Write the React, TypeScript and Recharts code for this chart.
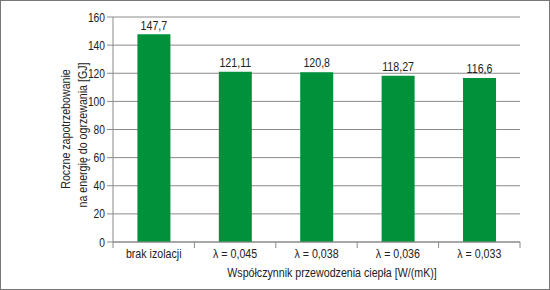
import React from "react";
import { BarChart, Bar, XAxis, YAxis, CartesianGrid, LabelList, Label } from "recharts";

const categories = ["brak izolacji", "λ = 0,045", "λ = 0,038", "λ = 0,036", "λ = 0,033"];
const values = [147.7, 121.11, 120.8, 118.27, 116.6];
const yTicks = [0, 20, 40, 60, 80, 100, 120, 140, 160];

const data = categories.map((name, i) => ({ name, value: values[i] }));

const FONT = "'Liberation Sans', Arial, sans-serif";
const GRAY = "#8a8a8a";
const GREEN = "#00913a";
const TXT = "#222";
const NARROW = 0.82; // approximate a narrow/condensed face

// text squeezed horizontally, anchored at (x, y)
function NText({ x, y, anchor = "middle", size = 13, rotate = 0, children }: any) {
  return (
    <g transform={`translate(${x},${y}) rotate(${rotate}) scale(${NARROW},1)`}>
      <text x={0} y={0} textAnchor={anchor} fontFamily={FONT} fontSize={size} fill={TXT}>
        {children}
      </text>
    </g>
  );
}

function XTick(props: any) {
  const { x, y, payload, index } = props;
  const half = payload && payload.offset ? payload.offset : 40.7;
  const last = index === categories.length - 1;
  return (
    <g>
      <line x1={x - half} x2={x - half} y1={y - 8} y2={y - 2} stroke={GRAY} />
      {last && <line x1={x + half} x2={x + half} y1={y - 8} y2={y - 2} stroke={GRAY} />}
      <NText x={x} y={y + 7.5}>{payload.value}</NText>
    </g>
  );
}

function YTick(props: any) {
  const { x, y, payload } = props;
  return (
    <NText x={x} y={y + 4.5} anchor="end" size={12.5}>
      {payload.value}
    </NText>
  );
}

function YTitle() {
  return (
    <g>
      <NText x={70} y={129} rotate={-90}>Roczne zapotrzebowanie</NText>
      <NText x={87} y={135} rotate={-90}>na energię do ogrzewania [GJ]</NText>
    </g>
  );
}

function XTitle() {
  return <NText x={332} y={276.5}>Współczynnik przewodzenia ciepła [W/(mK)]</NText>;
}

function ValueLabel(props: any) {
  const { x, y, width, value } = props;
  return (
    <NText x={x + width / 2} y={y - 4.7}>
      {String(value).replace(".", ",")}
    </NText>
  );
}

export default function App() {
  return (
    <div style={{ position: "absolute", left: 0, top: 0, width: 550, height: 290, background: "#fff" }}>
      <div
        style={{
          position: "absolute",
          left: 0,
          top: 0,
          width: 548,
          height: 288,
          border: "1px solid #777",
        }}
      />
      <div style={{ position: "absolute", left: 0, top: 0 }}>
        <BarChart
          width={550}
          height={290}
          data={data}
          margin={{ top: 17, right: 30, left: 0, bottom: 0 }}
          barCategoryGap="30%"
        >
          <CartesianGrid stroke={GRAY} vertical={false} />
          <XAxis
            dataKey="name"
            tick={<XTick />}
            tickLine={false}
            axisLine={{ stroke: GRAY }}
            height={48}
            interval={0}
          >
            <Label content={<XTitle />} />
          </XAxis>
          <YAxis
            width={113}
            domain={[0, 160]}
            ticks={yTicks}
            interval={0}
            tickSize={6}
            tickLine={{ stroke: GRAY }}
            axisLine={{ stroke: GRAY }}
            tick={<YTick />}
          >
            <Label content={<YTitle />} />
          </YAxis>
          <Bar dataKey="value" fill={GREEN} isAnimationActive={false}>
            <LabelList dataKey="value" content={<ValueLabel />} />
          </Bar>
        </BarChart>
      </div>
    </div>
  );
}
